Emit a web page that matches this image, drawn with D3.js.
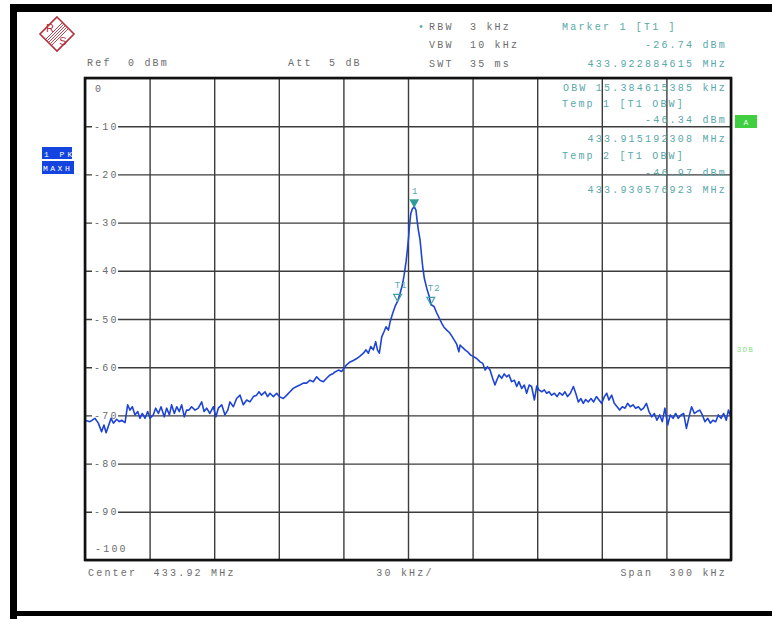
<!DOCTYPE html>
<html lang="en">
<head>
<meta charset="UTF-8">
<title>Spectrum 433.92 MHz</title>
<script src="https://cdn.jsdelivr.net/npm/d3@7"></script>
<style>
    body { margin: 0; background: #fff; }
    svg text {
        font-family: "Liberation Mono", monospace;
        font-size: 10px;
        letter-spacing: 2.2px;
        white-space: pre;
    }
    .grid line { stroke: #3c3c3c; stroke-width: 1.4; }
    .grid path { display: none; }
    .lbl { fill: #6c6c6c; }
    .teal { fill: #58a8a8; }
</style>
</head>
<body>
<svg id="vis" width="772" height="619"></svg>
<script>
    // analyser settings
    const centerMHz = 433.92;
    const spanKHz = 300;
    const xTicks = [-150, -120, -90, -60, -30, 0, 30, 60, 90, 120, 150];
    const yTicks = [0, -10, -20, -30, -40, -50, -60, -70, -80, -90, -100];
    const yLabels = ["0", "-10", "-20", "-30", "-40", "-50", "-60", "-70", "-80", "-90", "-100"];

    // trace: [offset from center in kHz, level in dBm]
    const trace = [
        [-150.0,-71.0],[-147.7,-71.3],[-145.4,-70.6],[-143.8,-71.6],[-142.3,-73.4],[-141.2,-72.0],[-140.2,-73.6],[-139.2,-72.3],
        [-137.9,-70.6],[-136.8,-71.6],[-135.3,-70.8],[-134.1,-71.3],[-133.0,-71.0],[-131.4,-71.5],[-130.2,-67.8],[-129.1,-68.9],
        [-128.0,-68.2],[-126.8,-69.9],[-125.5,-69.2],[-124.5,-70.6],[-123.4,-69.6],[-122.1,-70.6],[-120.9,-69.2],[-119.8,-70.6],
        [-118.3,-69.9],[-117.2,-68.5],[-115.9,-69.6],[-114.7,-68.2],[-113.2,-70.3],[-112.1,-68.5],[-110.8,-69.9],[-109.8,-67.8],
        [-108.5,-69.6],[-107.4,-68.2],[-106.2,-69.2],[-105.1,-67.8],[-103.9,-70.3],[-102.8,-68.9],[-101.7,-68.9],[-100.5,-68.2],
        [-98.9,-68.9],[-97.4,-68.5],[-95.8,-67.2],[-94.7,-69.2],[-93.5,-68.5],[-92.0,-69.6],[-90.4,-68.2],[-89.2,-70.3],
        [-88.1,-68.5],[-86.5,-67.8],[-85.0,-69.9],[-83.7,-68.9],[-82.7,-67.2],[-81.1,-68.2],[-79.6,-66.5],[-78.0,-65.8],
        [-76.5,-67.8],[-74.9,-66.8],[-73.4,-67.2],[-71.8,-66.1],[-70.3,-65.8],[-69.2,-65.1],[-68.0,-65.8],[-66.4,-65.1],
        [-65.2,-66.1],[-64.1,-65.4],[-62.5,-66.1],[-61.0,-65.4],[-59.8,-66.1],[-57.9,-66.5],[-56.3,-65.8],[-54.8,-65.1],
        [-53.3,-64.4],[-51.7,-64.0],[-50.2,-63.7],[-48.6,-63.3],[-47.1,-63.3],[-45.5,-62.7],[-44.0,-63.0],[-42.4,-62.0],
        [-40.9,-62.7],[-39.3,-63.0],[-37.8,-62.3],[-36.2,-61.6],[-34.7,-61.3],[-34.3,-61.1],[-32.3,-60.6],[-30.8,-60.9],
        [-29.7,-60.2],[-28.5,-59.5],[-26.9,-58.9],[-25.4,-58.6],[-23.8,-58.2],[-22.3,-57.7],[-20.7,-57.1],[-19.5,-56.4],
        [-18.4,-57.1],[-17.3,-55.7],[-16.1,-56.4],[-15.0,-54.7],[-14.2,-56.4],[-13.3,-57.1],[-12.2,-53.7],[-11.1,-52.6],
        [-10.2,-51.6],[-9.1,-52.3],[-8.3,-50.6],[-7.1,-48.8],[-6.0,-47.4],[-4.8,-46.3],[-3.7,-44.7],[-2.6,-42.9],
        [-1.8,-40.9],[-0.9,-38.1],[-0.3,-35.7],[0.3,-32.9],[0.8,-30.1],[1.3,-28.1],[2.0,-27.2],[2.9,-26.7],
        [3.7,-27.4],[4.2,-29.5],[4.8,-31.5],[5.6,-33.6],[6.2,-36.4],[6.8,-39.1],[7.6,-41.6],[8.7,-43.6],
        [9.9,-45.4],[10.6,-47.0],[12.1,-47.4],[13.3,-48.7],[14.6,-49.9],[15.7,-50.9],[16.7,-51.7],[18.0,-52.3],
        [19.2,-52.8],[20.3,-53.5],[21.5,-54.4],[22.6,-55.2],[23.6,-56.8],[24.2,-55.4],[25.3,-55.9],[26.5,-56.4],
        [27.7,-56.8],[29.1,-57.5],[30.4,-57.8],[31.9,-58.2],[33.5,-58.9],[34.7,-59.2],[35.8,-60.6],[36.9,-59.9],
        [38.1,-60.6],[39.3,-62.3],[40.4,-63.7],[41.2,-62.7],[42.3,-61.6],[43.5,-62.3],[44.7,-61.4],[45.8,-62.0],
        [46.9,-61.6],[48.1,-63.0],[49.4,-62.7],[50.5,-64.0],[51.5,-63.0],[52.8,-64.4],[54.0,-63.7],[55.1,-65.4],
        [56.3,-63.7],[57.4,-64.0],[58.7,-66.8],[59.8,-63.9],[60.8,-64.7],[62.1,-65.1],[63.3,-64.7],[64.4,-65.4],
        [65.5,-65.1],[66.7,-65.8],[68.0,-65.4],[69.2,-66.1],[70.4,-65.3],[71.7,-65.8],[72.9,-65.1],[74.1,-66.1],
        [75.4,-65.4],[76.8,-64.0],[77.9,-65.4],[79.1,-67.2],[80.3,-66.5],[81.4,-67.5],[82.5,-66.7],[83.7,-67.2],
        [85.0,-66.5],[86.2,-67.2],[87.5,-66.1],[88.7,-66.8],[89.9,-67.5],[91.2,-66.1],[92.3,-65.4],[93.3,-66.8],
        [94.6,-65.8],[95.8,-67.5],[97.1,-68.2],[98.3,-68.9],[99.5,-68.2],[100.8,-68.5],[102.0,-67.5],[103.2,-68.2],
        [104.5,-67.8],[105.7,-68.5],[107.0,-68.2],[108.2,-68.9],[109.4,-68.5],[110.7,-67.5],[111.9,-69.2],[113.2,-70.3],
        [114.4,-69.6],[115.6,-71.0],[116.9,-69.9],[118.1,-71.3],[119.3,-68.5],[120.6,-72.0],[121.8,-69.9],[123.1,-70.6],
        [124.3,-69.6],[125.5,-70.6],[126.8,-69.9],[128.0,-69.6],[129.3,-72.7],[130.5,-70.3],[131.7,-68.2],[133.0,-69.6],
        [134.2,-69.2],[135.5,-68.9],[136.7,-69.9],[137.9,-71.3],[139.2,-70.6],[140.4,-71.6],[141.6,-71.0],[142.9,-71.3],
        [144.1,-69.9],[145.4,-70.6],[146.6,-69.6],[147.8,-71.0],[148.8,-68.9],[150.0,-70.3]
    ];

    // markers (kHz offset, dBm)
    const markerNames = ["1", "T1", "T2"];
    const markerKHz = [2.88, -4.81, 10.58];
    const markerDBm = [-26.74, -46.34, -46.97];

    // screen texts
    const settingsText = ["RBW  3 kHz", "VBW  10 kHz", "SWT  35 ms"];
    const markerInfo = ["Marker 1 [T1 ]", "-26.74 dBm", "433.922884615 MHz"];
    const obwInfo = ["OBW 15.384615385 kHz", "Temp 1 [T1 OBW]", "-46.34 dBm", "433.915192308 MHz",
                     "Temp 2 [T1 OBW]", "-46.97 dBm", "433.930576923 MHz"];

    let svg = d3.select("#vis");
    let width = +svg.attr("width");
    let height = +svg.attr("height");
    let margin = { top: 78, right: 41, bottom: 59, left: 85 };

    let x = d3.scaleLinear().domain([-spanKHz / 2, spanKHz / 2]).range([margin.left, width - margin.right]);
    let y = d3.scaleLinear().domain([-100, 0]).range([height - margin.bottom, margin.top]);
    let pw = x(spanKHz / 2) - x(-spanKHz / 2);
    let ph = y(-100) - y(0);

    /* outer black frame */
    svg.append("rect").attr("x", 10).attr("y", 4).attr("width", 762).attr("height", 8).attr("fill", "#000");
    svg.append("rect").attr("x", 10).attr("y", 4).attr("width", 7).attr("height", 615).attr("fill", "#000");
    svg.append("rect").attr("x", 10).attr("y", 611).attr("width", 762).attr("height", 5).attr("fill", "#000");

    /* R&S logo */
    let logo = svg.append("g").attr("transform", "translate(57,34)");
    logo.append("polygon").attr("points", "0,-17 17,0 0,17 -17,0")
        .attr("fill", "none").attr("stroke", "#b3303c").attr("stroke-width", 1.6);
    [-3, -1.5, 0, 1.5, 3].forEach(function(k) {
        logo.append("line")
            .attr("x1", -8 + k).attr("y1", 8 + k).attr("x2", 8 + k).attr("y2", -8 + k)
            .attr("stroke", "#b3303c").attr("stroke-width", 0.9);
    });
    logo.append("text").attr("x", -7).attr("y", -2).attr("text-anchor", "middle")
        .style("font-family", "Liberation Sans").style("font-size", "11px").style("letter-spacing", "0")
        .attr("fill", "#b3303c").text("R");
    logo.append("text").attr("x", 6).attr("y", 11).attr("text-anchor", "middle")
        .style("font-family", "Liberation Sans").style("font-size", "11px").style("letter-spacing", "0")
        .attr("fill", "#b3303c").text("S");

    /* header */
    svg.append("text").attr("class", "lbl").attr("x", 87).attr("y", 65.5).text("Ref  0 dBm");
    svg.append("text").attr("class", "lbl").attr("x", 288).attr("y", 65.5).text("Att  5 dB");
    svg.append("text").attr("class", "teal").attr("x", 418).attr("y", 29.5).text("•");
    svg.selectAll(".settings").data(settingsText).join("text")
        .attr("class", "lbl settings").attr("x", 429).attr("y", (d, i) => 29.5 + i * 18.5).text(d => d);

    svg.selectAll(".minfo").data(markerInfo).join("text")
        .attr("class", "teal minfo")
        .attr("x", (d, i) => i === 0 ? 562 : 727)
        .attr("text-anchor", (d, i) => i === 0 ? "start" : "end")
        .attr("y", (d, i) => 29.5 + i * 18.5).text(d => d);

    /* grid */
    svg.append("g").attr("class", "grid")
        .attr("transform", "translate(0," + y(-100) + ")")
        .call(d3.axisBottom(x).tickValues(xTicks).tickSize(-ph).tickFormat(""));
    svg.append("g").attr("class", "grid")
        .attr("transform", "translate(" + x(-spanKHz / 2) + ",0)")
        .call(d3.axisLeft(y).tickValues(yTicks).tickSize(-pw).tickFormat(""));

    /* level labels */
    yTicks.forEach(function(t, i) {
        if (t === 0) {
            svg.append("text").attr("class", "lbl").attr("x", 95).attr("y", y(t) + 13.5).text(yLabels[i]);
        } else if (t === -100) {
            svg.append("text").attr("class", "lbl").attr("x", 95).attr("y", y(t) - 8.5).text(yLabels[i]);
        } else {
            svg.append("rect").attr("x", 92).attr("y", y(t) - 6).attr("width", 26).attr("height", 12).attr("fill", "#fff");
            svg.append("text").attr("class", "lbl").attr("x", 94).attr("y", y(t) + 3.5).text(yLabels[i]);
        }
    });

    /* OBW marker list (over the grid) */
    let obwY = [90.5, 106.5, 122.5, 141.5, 158.5, 175.5, 192.5];
    svg.selectAll(".obw").data(obwInfo).join("text")
        .attr("class", "teal obw")
        .attr("x", (d, i) => (i === 1 || i === 4) ? 562 : 727)
        .attr("text-anchor", (d, i) => (i === 1 || i === 4) ? "start" : "end")
        .attr("y", (d, i) => obwY[i]).text(d => d);

    /* trace */
    svg.append("clipPath").attr("id", "plot")
        .append("rect").attr("x", x(-150)).attr("y", y(0)).attr("width", pw).attr("height", ph);
    svg.append("path")
        .datum(trace)
        .attr("clip-path", "url(#plot)")
        .attr("fill", "none")
        .attr("stroke", "#1e44d6")
        .attr("stroke-width", 1.6)
        .attr("stroke-linejoin", "round")
        .attr("d", d3.line().x(d => x(d[0])).y(d => y(d[1])));

    /* plot frame */
    svg.append("rect").attr("x", x(-150)).attr("y", y(0)).attr("width", pw).attr("height", ph)
        .attr("fill", "none").attr("stroke", "#111").attr("stroke-width", 2.6);

    /* markers */
    markerNames.forEach(function(name, i) {
        let mx = x(markerKHz[i]);
        let my = y(markerDBm[i]);
        svg.append("path")
            .attr("d", "M" + (mx - 4) + "," + (my - 7) + "L" + (mx + 4) + "," + (my - 7) + "L" + mx + "," + my + "Z")
            .attr("fill", i === 0 ? "#2e9a9a" : "none")
            .attr("stroke", "#3aa0a0").attr("stroke-width", 1.1);
        svg.append("text").attr("class", "teal")
            .attr("x", i === 0 ? mx + 1 : mx - 3)
            .attr("y", my - 13)
            .attr("text-anchor", i === 0 ? "middle" : "start")
            .style("font-size", "9px").style("letter-spacing", "1px")
            .text(name);
    });

    /* trace / status boxes */
    svg.append("rect").attr("x", 42).attr("y", 147).attr("width", 30).attr("height", 12).attr("fill", "#1444e0");
    svg.append("text").attr("x", 44).attr("y", 156.5).attr("fill", "#fff").style("font-size", "8px").style("letter-spacing", "3px").text("1 PK");
    svg.append("rect").attr("x", 42).attr("y", 161).attr("width", 32).attr("height", 13).attr("fill", "#1444e0");
    svg.append("text").attr("x", 43).attr("y", 170.5).attr("fill", "#fff").style("font-size", "8px").style("letter-spacing", "2.5px").text("MAXH");
    svg.append("rect").attr("x", 735).attr("y", 115).attr("width", 22).attr("height", 13).attr("fill", "#3fcf40");
    svg.append("text").attr("x", 746).attr("y", 124.5).attr("text-anchor", "middle").attr("fill", "#e8ffe8")
        .style("font-size", "8px").style("letter-spacing", "0").text("A");
    svg.append("text").attr("x", 737).attr("y", 352).attr("fill", "#7fdc7f")
        .style("font-size", "7px").style("letter-spacing", "1.5px").text("3DB");

    /* footer */
    svg.append("text").attr("class", "lbl").attr("x", 88).attr("y", 575.5).text("Center  " + centerMHz.toFixed(2) + " MHz");
    svg.append("text").attr("class", "lbl").attr("x", 405).attr("y", 575.5).attr("text-anchor", "middle").text((spanKHz / 10) + " kHz/");
    svg.append("text").attr("class", "lbl").attr("x", 727).attr("y", 575.5).attr("text-anchor", "end").text("Span  " + spanKHz + " kHz");
</script>
</body>
</html>
